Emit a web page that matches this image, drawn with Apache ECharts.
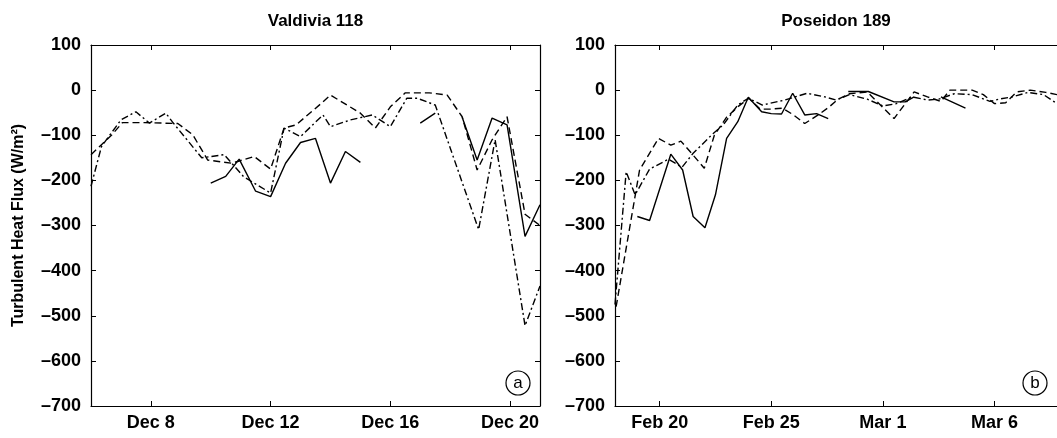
<!DOCTYPE html>
<html>
<head>
<meta charset="utf-8">
<script src="https://cdn.jsdelivr.net/npm/echarts@6/dist/echarts.min.js"></script>
<style>
html, body { margin: 0; padding: 0; background: #fff; }
#chart { width: 1057px; height: 438px; }
</style>
</head>
<body>
<div id="chart"></div>
<script>
// Valdivia 118: x = day of December
var valdiviaSolid = [[10.0,-206],[10.5,-191],[10.95,-153],[11.5,-224],[12.0,-236],[12.5,-162],[13.0,-116],[13.5,-107],
  [14.0,-206],[14.5,-136],[15.0,-160],[16.0,null],[17.0,-73],[17.5,-51],[18.0,null],[18.4,-60],[18.9,-155],[19.4,-62],
  [19.9,-77],[20.5,-324],[21.0,-254]];
var valdiviaDashed = [[6.0,-143],[6.35,-121],[6.7,-99],[7.05,-72],[7.8,-72],[8.9,-74],[9.4,-99],[9.9,-155],[10.7,-162],
  [11.45,-147],[12.0,-175],[12.45,-84],[12.85,-77],[13.7,-29],[14.0,-11],[15.0,-51],[15.5,-84],[16.0,-37],[16.5,-6],
  [17.3,-6],[17.9,-11],[18.4,-59],[18.9,-177],[19.4,-110],[19.9,-59],[20.5,-275],[21.0,-300]];
var valdiviaDashDot = [[6.0,-213],[6.35,-125],[7.0,-66],[7.5,-48],[7.95,-73],[8.5,-51],[8.75,-73],[9.7,-150],[10.45,-143],
  [11.1,-192],[12.0,-228],[12.45,-84],[13.0,-103],[13.75,-55],[14.0,-81],[14.67,-66],[15.4,-55],[16.0,-81],[16.55,-18],
  [16.9,-18],[17.5,-33],[18.95,-309],[19.5,-110],[20.5,-522],[21.0,-434]];

// Poseidon 189: x = day counted from Feb 0 (Mar 1 = 30)
var poseidonSolid = [[19.0,-280],[19.55,-289],[20.5,-142],[21.03,-177],[21.5,-280],[22.03,-305],[22.5,-232],[23.0,-107],
  [23.5,-70],[23.97,-16],[24.57,-48],[25.0,-52],[25.46,-53],[25.96,-7],[26.5,-55],[27.03,-52],[27.55,-63],[28.0,null],
  [28.45,-3],[29.35,-3],[30.5,-26],[31.0,-26],[31.4,-15],[32.0,null],[32.6,-15],[33.7,-40]];
var poseidonDashed = [[18.05,-480],[18.9,-235],[19.1,-177],[19.95,-107],[20.5,-122],[20.95,-113],[21.5,-144],[22.0,-173],
  [22.45,-100],[23.0,-60],[23.5,-37],[24.0,-18],[24.5,-42],[25.0,-42],[25.5,-40],[26.0,-55],[26.5,-74],[27.1,-55],
  [27.6,-37],[28.0,-20],[28.5,-8],[29.3,-4],[30.5,-63],[31.4,-4],[32.0,-15],[32.6,-25],[33.0,0],[34.0,0],[34.5,-10],
  [35.0,-30],[35.5,-28],[36.0,-4],[36.6,0],[37.3,-5],[37.8,-10]];
var poseidonDashDot = [[18.0,-475],[18.5,-181],[18.9,-232],[19.55,-175],[20.4,-153],[21.0,-171],[21.5,-140],[22.4,-96],
  [22.85,-77],[23.5,-33],[23.97,-18],[24.6,-33],[25.6,-22],[26.6,-7],[27.4,-15],[27.9,-22],[28.5,-10],[29.3,-20],
  [30.0,-35],[30.6,-30],[31.3,-15],[32.0,-22],[32.5,-20],[33.2,-8],[34.0,-10],[34.8,-25],[35.2,-20],[35.8,-15],
  [36.5,-5],[37.2,-10],[37.8,-30]];

var decTicks = [8, 12, 16, 20];
var decLabels = ['Dec 8', 'Dec 12', 'Dec 16', 'Dec 20'];
var febTicks = [20, 25, 30, 35];
var febLabels = ['Feb 20', 'Feb 25', 'Mar 1', 'Mar 6'];
var fluxMin = -700, fluxMax = 100, fluxStep = 100;

var chart = echarts.init(document.getElementById('chart'));

var FONT = '"Liberation Sans", Arial, sans-serif';
var axisLine = { show: true, onZero: false, lineStyle: { color: '#000', width: 1.2 } };

function xAxisFor(grid, pos, min, max, ticks, labels, title) {
  return {
    type: 'value', gridIndex: grid, position: pos, min: min, max: max,
    axisLine: axisLine,
    axisTick: { show: true, inside: true, length: 5, customValues: ticks, lineStyle: { color: '#000' } },
    axisLabel: {
      show: pos === 'bottom', customValues: ticks, margin: 8,
      color: '#000', fontWeight: 'bold', fontSize: 18, fontFamily: FONT,
      formatter: function (v) { return labels[ticks.indexOf(v)] || ''; }
    },
    splitLine: { show: false },
    name: title || '', nameLocation: 'middle', nameGap: 15,
    nameTextStyle: { color: '#000', fontWeight: 'bold', fontSize: 17, fontFamily: FONT }
  };
}

function yAxisFor(grid, pos, withLabels, name) {
  return {
    type: 'value', gridIndex: grid, position: pos, min: fluxMin, max: fluxMax, interval: fluxStep,
    axisLine: axisLine,
    axisTick: { show: true, inside: true, length: 5, lineStyle: { color: '#000' } },
    axisLabel: {
      show: withLabels, margin: 10, color: '#000', fontWeight: 'bold', fontSize: 18, fontFamily: FONT,
      formatter: function (v) { return v < 0 ? '\u2013' + Math.abs(v) : String(v); }
    },
    splitLine: { show: false },
    name: name || '', nameLocation: 'middle', nameRotate: 90, nameGap: 64,
    nameTextStyle: { color: '#000', fontWeight: 'bold', fontSize: 16, fontFamily: FONT }
  };
}

function lineSeries(xi, yi, data, dash) {
  return {
    type: 'line', xAxisIndex: xi, yAxisIndex: yi, data: data,
    showSymbol: false, connectNulls: false, clip: true,
    lineStyle: { color: '#000', width: 1.4, type: dash }
  };
}

var option = {
  animation: false,
  backgroundColor: '#fff',
  grid: [
    { left: 91, right: 517, top: 45, bottom: 32 },
    { left: 615, right: 0, top: 45, bottom: 32 }
  ],
  xAxis: [
    xAxisFor(0, 'bottom', 6, 21, decTicks, decLabels),
    xAxisFor(0, 'top', 6, 21, decTicks, decLabels, 'Valdivia 118'),
    xAxisFor(1, 'bottom', 18, 37.8, febTicks, febLabels),
    xAxisFor(1, 'top', 18, 37.8, febTicks, febLabels, 'Poseidon 189')
  ],
  yAxis: [
    yAxisFor(0, 'left', true, 'Turbulent Heat Flux (W/m\u00b2)'),
    yAxisFor(0, 'right', false),
    yAxisFor(1, 'left', true)
  ],
  series: [
    lineSeries(0, 0, valdiviaSolid, 'solid'),
    lineSeries(0, 0, valdiviaDashed, [7, 4]),
    lineSeries(0, 0, valdiviaDashDot, [7, 3, 2, 3]),
    lineSeries(2, 2, poseidonSolid, 'solid'),
    lineSeries(2, 2, poseidonDashed, [7, 4]),
    lineSeries(2, 2, poseidonDashDot, [7, 3, 2, 3])
  ],
  graphic: [
    { type: 'circle', shape: { cx: 518, cy: 383, r: 12 }, style: { fill: '#fff', stroke: '#000', lineWidth: 1.2 } },
    { type: 'text', x: 518, y: 383, style: { text: 'a', fontSize: 17, fontFamily: FONT, fill: '#000', align: 'center', verticalAlign: 'middle' } },
    { type: 'circle', shape: { cx: 1035, cy: 383, r: 12 }, style: { fill: '#fff', stroke: '#000', lineWidth: 1.2 } },
    { type: 'text', x: 1035, y: 383, style: { text: 'b', fontSize: 17, fontFamily: FONT, fill: '#000', align: 'center', verticalAlign: 'middle' } }
  ]
};

chart.setOption(option);
</script>
</body>
</html>
